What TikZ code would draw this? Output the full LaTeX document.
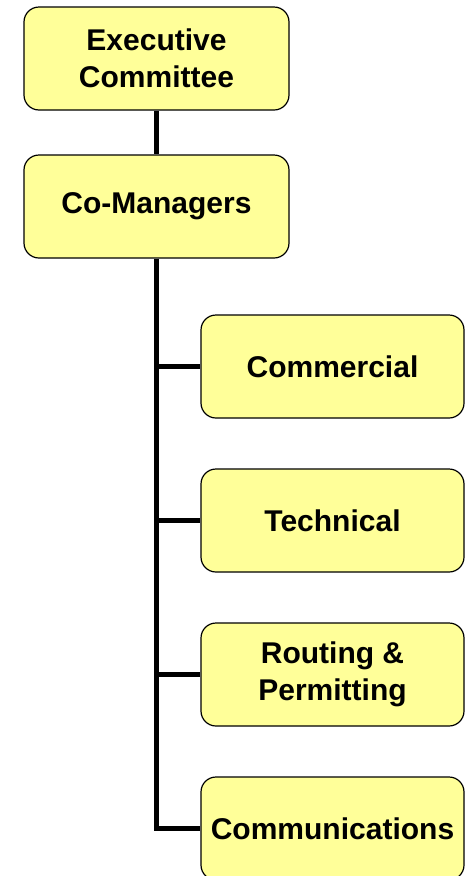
\documentclass[tikz,border=0pt]{standalone}
\usepackage{fontspec}
\setmainfont{Liberation Sans}
\usepackage{tikz}
\usetikzlibrary{positioning,calc}

\definecolor{boxyellow}{RGB}{255,255,153}

\begin{document}
\begin{tikzpicture}[
x=1pt,y=-1pt,
unit/.style={
  draw=black,
  fill=boxyellow,
  line width=1.2pt,
  rounded corners=15pt,
  minimum width=265pt,
  minimum height=103pt,
  inner sep=0pt,
  align=center,
  font=\fontsize{30}{37}\selectfont\bfseries
  },
subunit/.style={
  unit,
  minimum width=263pt
  },
link/.style={
  line width=5pt
  }
]
\useasboundingbox (0,0) rectangle (465,876);

\node[unit] (exec) at (156.5,58.5) {Executive\\Committee};
\node[unit] (comgr) at (156.5,206.5) {Co-Managers};

\node[subunit] (comm) at (332.5,366.5) {Commercial};
\node[subunit] (tech) at (332.5,520.5) {Technical};
\node[subunit] (rout) at (332.5,674.5) {Routing \&\\Permitting};
\node[subunit] (comms) at (332.5,828.5) {Communications};

\draw[link] (exec) -- (comgr);
\draw[link] (comgr.south) -- (comgr.south |- comms.west) -- (comms.west);
\foreach \team in {comm,tech,rout}
  \draw[link] (comgr.south |- \team.west) -- (\team.west);

\end{tikzpicture}
\end{document}
